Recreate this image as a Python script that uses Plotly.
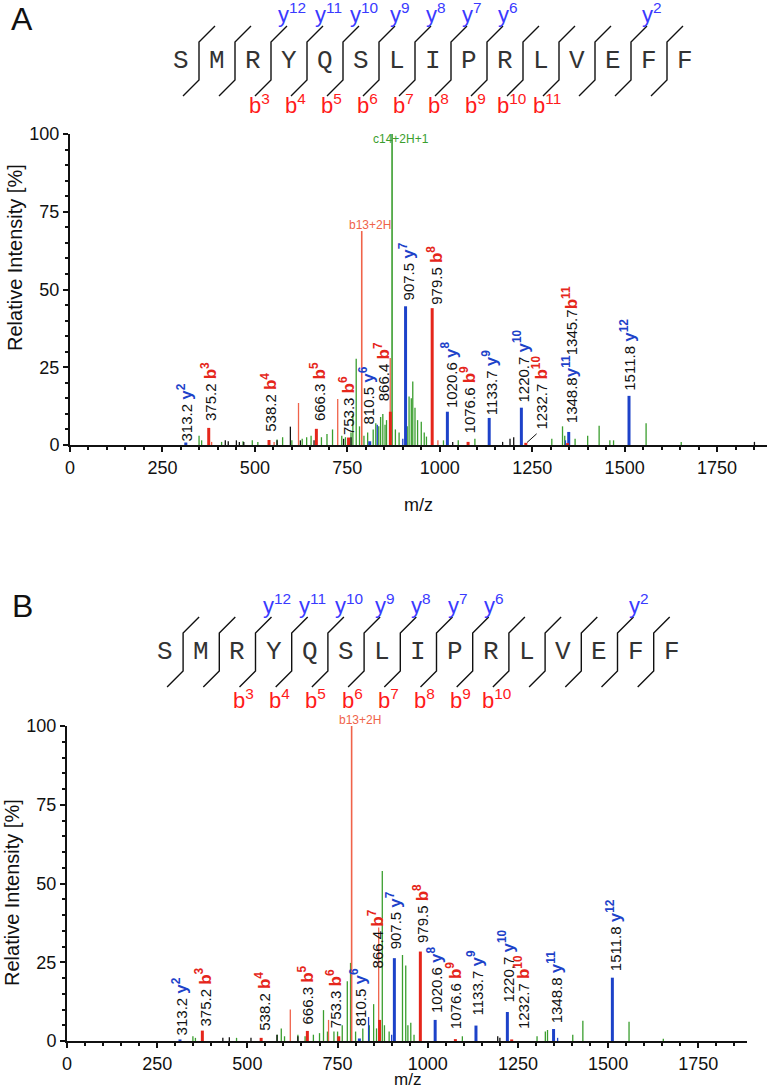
import plotly.graph_objects as go

W, H = 769, 1089

# ---------------- data ----------------
SEQUENCE = list("SMRYQSLIPRLVEFF")
A_HEADER_Y = [12, 11, 10, 9, 8, 7, 6, 2]
A_HEADER_B = [3, 4, 5, 6, 7, 8, 9, 10, 11]
B_HEADER_Y = [12, 11, 10, 9, 8, 7, 6, 2]
B_HEADER_B = [3, 4, 5, 6, 7, 8, 9, 10]

X_TICKS = [0, 250, 500, 750, 1000, 1250, 1500, 1750]
Y_TICKS = [0, 25, 50, 75, 100]

# Panel A: assigned fragment ions
A_ION_MZ = [313.2, 375.2, 538.2, 666.3, 753.3, 810.5, 866.4, 907.5, 979.5,
            1020.6, 1076.6, 1133.7, 1220.7, 1232.7, 1348.8, 1345.7, 1511.8]
A_ION_INT = [0.8, 5.5, 1.6, 5.2, 2.4, 1.2, 10.7, 44.6, 44.0,
             10.7, 1.0, 8.7, 12.0, 0.7, 4.2, 0.6, 15.8]
A_ION_NAME = ["y2", "b3", "b4", "b5", "b6", "y6", "b7", "y7", "b8",
              "y8", "b9", "y9", "y10", "b10", "y11", "b11", "y12"]

# Panel A: unassigned peaks
A_GREEN_MZ = [349, 356, 410, 468, 493, 508, 560, 575, 600, 628, 640, 652, 680, 695,
              710, 735, 745, 760, 765, 774, 783, 795, 805, 820, 827, 835, 840, 846,
              852, 856, 880, 890, 912, 917, 923, 927, 933, 940, 950, 958, 964, 1010,
              1050, 1095, 1303, 1332, 1338, 1366, 1400, 1431, 1460, 1470, 1558, 1653]
A_GREEN_INT = [3.0, 1.5, 1.0, 1.2, 1.5, 1.0, 1.8, 2.5, 1.5, 2.0, 2.5, 3.0, 2.5, 3.5,
               5.0, 3.0, 2.5, 4.0, 10.0, 27.7, 6.0, 3.0, 4.0, 5.0, 7.0, 6.0, 9.0, 10.0,
               6.5, 8.0, 5.0, 4.0, 6.0, 15.6, 15.0, 20.4, 12.0, 8.0, 7.5, 4.0, 2.7, 1.5,
               1.5, 2.0, 2.0, 6.0, 3.0, 2.0, 3.0, 6.2, 1.5, 1.5, 7.0, 1.0]
A_BLACK_MZ = [420, 428, 450, 458, 470, 560, 596, 623, 660, 740, 760, 1035, 1170, 1190, 1200, 1851]
A_BLACK_INT = [1.5, 1.2, 1.5, 1.0, 1.0, 1.5, 5.9, 1.5, 1.5, 2.0, 2.5, 1.0, 1.0, 2.0, 2.5, 1.0]
A_REDTHIN_MZ = [383, 552, 618, 724, 866, 995]
A_REDTHIN_INT = [1.0, 1.0, 13.5, 14.8, 28.0, 1.5]
A_BLUETHIN_MZ = [831, 900, 1340]
A_BLUETHIN_INT = [6.5, 2.0, 1.5]
A_SPECIAL_MZ = [789, 871]          # b13+2H, c14+2H+1
A_SPECIAL_INT = [68.8, 100.0]
A_SPECIAL_NAME = ["b13+2H", "c14+2H+1"]

# Panel B: assigned fragment ions
B_ION_MZ = [313.2, 375.2, 538.2, 666.3, 753.3, 810.5, 866.4, 907.5, 979.5,
            1020.6, 1076.6, 1133.7, 1220.7, 1232.7, 1348.8, 1511.8]
B_ION_INT = [0.5, 3.3, 1.0, 3.2, 1.5, 0.8, 6.7, 26.3, 28.4,
             6.7, 0.6, 4.9, 9.2, 0.5, 3.8, 20.1]
B_ION_NAME = ["y2", "b3", "b4", "b5", "b6", "y6", "b7", "y7", "b8",
              "y8", "b9", "y9", "y10", "b10", "y11", "y12"]

B_GREEN_MZ = [349, 356, 470, 583, 594, 603, 640, 660, 683, 700, 711, 722, 740, 750,
              763, 777, 786, 800, 820, 838, 850, 858, 874, 880, 893, 930, 939, 945,
              953, 962, 1096, 1303, 1326, 1332, 1402, 1430, 1558, 1653]
B_GREEN_INT = [1.5, 1.0, 1.0, 2.0, 4.0, 1.5, 2.0, 1.5, 2.0, 2.5, 9.8, 3.0, 3.0, 3.0,
               5.0, 19.0, 24.8, 3.0, 4.0, 5.0, 11.7, 4.0, 54.0, 5.0, 3.0, 27.3, 24.0, 5.0,
               5.8, 2.0, 1.5, 1.5, 3.0, 3.5, 2.0, 6.4, 6.1, 0.7]
B_BLACK_MZ = [432, 450, 510, 582, 640, 1194, 1200]
B_BLACK_INT = [1.0, 1.2, 1.0, 2.0, 1.5, 1.5, 1.0]
B_REDTHIN_MZ = [619, 725, 864]
B_REDTHIN_INT = [10.0, 6.7, 36.0]
B_BLUETHIN_MZ = [836, 900, 1360]
B_BLUETHIN_INT = [7.6, 2.0, 1.0]
B_SPECIAL_MZ = [789]
B_SPECIAL_INT = [100.0]
B_SPECIAL_NAME = ["b13+2H"]

# ---------------- layout / style (not data) ----------------
FONT = "Liberation Sans, Arial, sans-serif"
MONO = "Liberation Mono, Courier New, monospace"
BLUE_BAR = "#1d42c9"
RED_BAR = "#e5261b"
GREEN = "#3a9e2e"
THIN_RED = "#f0634a"
HDR_BLUE = "#3a3aff"
HDR_RED = "#ff1a1a"

# label anchor positions (m/z centre, intensity where the rotated text starts)
A_LABEL_POS = {"y2": (312, 0.6), "b3": (374, 7), "b4": (536, 3.5), "b5": (669, 7),
               "b6": (751, 2.6), "y6": (802, 5.8), "b7": (843, 13.5), "y7": (910, 46),
               "b8": (987, 44.6), "y8": (1027, 11.3), "b9": (1076, 3.2), "y9": (1135, 9),
               "y10": (1221, 13), "b10": (1271, 4.3), "y11": (1352, 6.5), "y12": (1509, 16.8)}
B_LABEL_POS = {"y2": (312, 1), "b3": (377, 3.8), "b4": (541, 2.5), "b5": (663, 4.5),
               "b6": (742, 3.5), "y6": (809, 4), "b7": (856, 22.5), "y7": (906, 28.4),
               "b8": (983, 30.5), "y8": (1022, 8.3), "b9": (1073, 3), "y9": (1131, 7.3),
               "y10": (1217, 11.4), "b10": (1260, 3), "y11": (1353, 5), "y12": (1517, 21.6)}


def px(x):
    return x / W


def py(y):
    return 1 - y / H


def segs(mz, inten):
    xs, ys = [], []
    for m, i in zip(mz, inten):
        xs += [m, m, None]
        ys += [0, i, None]
    return xs, ys


fig = go.Figure()
annotations = []
shapes = []


def ion_part(name):
    t, n = name[0], name[1:]
    col = BLUE_BAR if t == "y" else RED_BAR
    return (f"<span style='color:{col};font-size:17px'><b>{t}<sup>{n}</sup></b></span>")


def add_panel(xref, yref, ion_mz, ion_int, ion_name, green, black, redthin, bluethin,
              special, label_pos, stacked=None):
    for (mz, it), col, w in [(green, GREEN, 1.3), (black, "#111111", 1.3),
                             (redthin, THIN_RED, 1.3), (bluethin, BLUE_BAR, 1.3)]:
        xs, ys = segs(mz, it)
        fig.add_trace(go.Scatter(x=xs, y=ys, mode="lines", line=dict(color=col, width=w),
                                 xaxis=xref, yaxis=yref, hoverinfo="skip", showlegend=False))
    smz, sint, sname = special
    for m, i, n in zip(smz, sint, sname):
        col = GREEN if n.startswith("c") else THIN_RED
        xs, ys = segs([m], [i])
        fig.add_trace(go.Scatter(x=xs, y=ys, mode="lines", line=dict(color=col, width=1.6),
                                 xaxis=xref, yaxis=yref, hoverinfo="skip", showlegend=False))
        if n.startswith("c"):
            annotations.append(dict(x=m + 25, y=i - 4.5, xref=xref, yref=yref, text=n,
                                    showarrow=False, xanchor="center", yanchor="bottom",
                                    font=dict(family=FONT, size=12, color=col)))
        else:
            annotations.append(dict(x=m + 22, y=i - 0.8, xref=xref, yref=yref, text=n,
                                    showarrow=False, xanchor="center", yanchor="bottom",
                                    font=dict(family=FONT, size=12, color=col)))
    for t, col in [("y", BLUE_BAR), ("b", RED_BAR)]:
        sel = [(m, i) for m, i, n in zip(ion_mz, ion_int, ion_name) if n[0] == t]
        xs, ys = segs([s[0] for s in sel], [s[1] for s in sel])
        fig.add_trace(go.Scatter(x=xs, y=ys, mode="lines", line=dict(color=col, width=3),
                                 xaxis=xref, yaxis=yref, hoverinfo="skip", showlegend=False))
    names = dict(zip(ion_name, ion_mz))
    for n, (lx, ly) in label_pos.items():
        txt = f"{names[n]:.1f} " + ion_part(n)
        if stacked and n == stacked[0]:
            txt = f"{names[n]:.1f}" + ion_part(n) + f"{names[stacked[1]]:.1f}" + ion_part(stacked[1])
        annotations.append(dict(x=lx, y=ly, xref=xref, yref=yref, text=txt, textangle=-90,
                                showarrow=False, xanchor="center", yanchor="bottom",
                                font=dict(family=FONT, size=15, color="#111111")))


add_panel("x", "y", A_ION_MZ, A_ION_INT, A_ION_NAME,
          (A_GREEN_MZ, A_GREEN_INT), (A_BLACK_MZ, A_BLACK_INT),
          (A_REDTHIN_MZ, A_REDTHIN_INT), (A_BLUETHIN_MZ, A_BLUETHIN_INT),
          (A_SPECIAL_MZ, A_SPECIAL_INT, A_SPECIAL_NAME), A_LABEL_POS, stacked=("y11", "b11"))
add_panel("x2", "y2", B_ION_MZ, B_ION_INT, B_ION_NAME,
          (B_GREEN_MZ, B_GREEN_INT), (B_BLACK_MZ, B_BLACK_INT),
          (B_REDTHIN_MZ, B_REDTHIN_INT), (B_BLUETHIN_MZ, B_BLUETHIN_INT),
          (B_SPECIAL_MZ, B_SPECIAL_INT, B_SPECIAL_NAME), B_LABEL_POS)

# leader line for 1232.7 in panel A
fig.add_trace(go.Scatter(x=[1236, 1262], y=[0.8, 3.6], mode="lines",
                         line=dict(color="#111111", width=1), xaxis="x", yaxis="y",
                         hoverinfo="skip", showlegend=False))


# ---------------- sequence headers ----------------
def header(x0, dx, yl, ylabels, blabels, panel_letter, letter_xy, b_gap):
    n = len(SEQUENCE)
    for i, aa in enumerate(SEQUENCE):
        annotations.append(dict(x=px(x0 + dx * i), y=py(yl), xref="paper", yref="paper",
                                text=aa, showarrow=False, xanchor="center", yanchor="middle",
                                font=dict(family=MONO, size=26, color="#333333")))
    vh, dd = 19, 16
    for k in range(n - 1):
        sx = x0 + dx * (k + 0.5)
        path = (f"M {px(sx - dd)} {py(yl + vh + dd)} L {px(sx)} {py(yl + vh)} "
                f"L {px(sx)} {py(yl - vh)} L {px(sx + dd)} {py(yl - vh - dd)}")
        shapes.append(dict(type="path", path=path, xref="paper", yref="paper",
                           line=dict(color="#111111", width=1.4)))
    for yn in ylabels:
        k = n - yn - 1
        sx = x0 + dx * (k + 0.5)
        annotations.append(dict(x=px(sx + dd + 5), y=py(yl - vh - dd + 3), xref="paper", yref="paper",
                                text=f"y<sup>{yn}</sup>", showarrow=False, xanchor="center",
                                yanchor="bottom", font=dict(family=FONT, size=22, color=HDR_BLUE)))
    for bn in blabels:
        k = bn - 1
        sx = x0 + dx * (k + 0.5)
        annotations.append(dict(x=px(sx - dd + 4), y=py(yl + b_gap), xref="paper", yref="paper",
                                text=f"b<sup>{bn}</sup>", showarrow=False, xanchor="center",
                                yanchor="top", font=dict(family=FONT, size=22, color=HDR_RED)))
    annotations.append(dict(x=px(letter_xy[0]), y=py(letter_xy[1]), xref="paper", yref="paper",
                            text=panel_letter, showarrow=False, xanchor="center", yanchor="middle",
                            font=dict(family=FONT, size=32, color="#111111")))


header(181, 36.0, 61, A_HEADER_Y, A_HEADER_B, "A", (22, 19), 27)
header(165, 36.2, 652, B_HEADER_Y, B_HEADER_B, "B", (22, 606), 31)

# axis titles
for (xc, yc, fs) in [(418, 505, 18), (407, 1079, 17)]:
    annotations.append(dict(x=px(xc), y=py(yc), xref="paper", yref="paper", text="m/z",
                            showarrow=False, xanchor="center", yanchor="middle",
                            font=dict(family=FONT, size=fs, color="#111111")))
for (xc, yc) in [(15, 258), (12, 893)]:
    annotations.append(dict(x=px(xc), y=py(yc), xref="paper", yref="paper",
                            text="Relative Intensity [%]", textangle=-90,
                            showarrow=False, xanchor="center", yanchor="middle",
                            font=dict(family=FONT, size=20, color="#111111")))

xcommon = dict(range=[0, 1885], tickvals=X_TICKS, ticks="outside", ticklen=5, tickwidth=2,
               tickcolor="#111111", showline=True, linewidth=2, linecolor="#111111",
               showgrid=False, zeroline=False, automargin=False,
               tickfont=dict(family=FONT, size=18, color="#111111"),
               minor=dict(dtick=50, ticks="outside", ticklen=3, tickwidth=1.5, tickcolor="#111111"))
ycommon = dict(range=[0, 100], tickvals=Y_TICKS, ticks="outside", ticklen=5, tickwidth=2,
               tickcolor="#111111", showline=True, linewidth=2, linecolor="#111111",
               showgrid=False, zeroline=False, automargin=False,
               tickfont=dict(family=FONT, size=18, color="#111111"),
               minor=dict(dtick=5, ticks="outside", ticklen=3, tickwidth=1.5, tickcolor="#111111"))

fig.update_layout(
    template="none",
    width=W, height=H, margin=dict(l=0, r=0, t=0, b=0, pad=0, autoexpand=False),
    paper_bgcolor="white", plot_bgcolor="white", showlegend=False,
    xaxis=dict(domain=[px(70), px(767)], anchor="y", **xcommon),
    yaxis=dict(domain=[py(445), py(134)], anchor="x", **ycommon),
    xaxis2=dict(domain=[px(67), px(747)], anchor="y2", **xcommon),
    yaxis2=dict(domain=[py(1041), py(726)], anchor="x2", **ycommon),
    annotations=annotations, shapes=shapes,
)

fig.write_html("out.html", config={"displayModeBar": False},
               post_script="document.body.style.margin='0';document.body.style.overflow='hidden';")
